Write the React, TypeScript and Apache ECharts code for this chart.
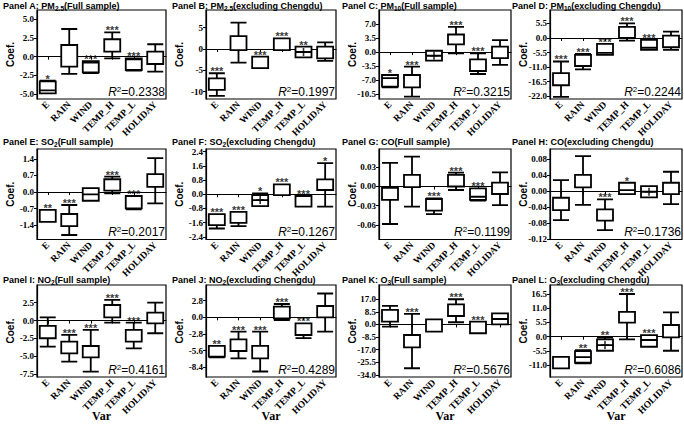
import React, { useEffect, useRef } from 'react';
import * as echarts from 'echarts';

const categories = ['E', 'RAIN', 'WIND', 'TEMP_H', 'TEMP_L', 'HOLIDAY'];

// [low, Q1, median, Q3, high]
const boxA = [[-4.9, -4.9, -4.5, -3.3, -3.2], [-2.3, -1.34, 1.56, 1.56, 3.7], [-2.2, -2.1, -0.8, -0.6, -0.6], [-0.22, 0.67, 2.33, 2.33, 3.26], [-1.85, -1.78, -0.35, -0.22, -0.22], [-2.0, -0.98, 0.67, 0.67, 1.66]];
const boxB = [[-11.0, -9.6, -9.6, -6.9, -5.7], [-3.2, -0.24, 3.05, 3.05, 6.2], [-4.5, -4.5, -1.8, -1.8, -1.8], [-0.24, -0.24, 2.5, 2.5, 2.5], [-1.95, -1.95, -0.7, 0.55, 0.55], [-2.8, -2.2, 0.55, 0.55, 1.57]];
const boxC = [[-8.8, -8.6, -6.5, -5.7, -5.7], [-11.1, -8.8, -8.8, -5.7, -3.6], [-2.1, -2.1, -0.9, 0.35, 0.35], [-0.3, 1.94, 4.4, 4.4, 6.3], [-5.45, -4.7, -4.7, -1.8, -0.3], [-3.2, -1.5, 1.35, 1.35, 3.0]];
const boxD = [[-22.3, -17.9, -17.9, -13.3, -8.9], [-11.9, -10.6, -10.6, -6.4, -6.0], [-6.4, -6.4, -5.6, -2.25, -2.25], [-1.0, 0.0, 4.2, 4.2, 5.5], [-4.5, -4.5, -3.7, -0.75, -0.75], [-4.5, -3.5, 0.86, 0.86, 2.4]];
const boxE = [[-1.26, -1.26, -1.26, -0.76, -0.76], [-1.82, -1.44, -1.44, -0.93, -0.55], [-0.37, -0.37, -0.1, 0.16, 0.16], [-0.06, 0.06, 0.54, 0.54, 0.65], [-0.73, -0.69, -0.69, -0.17, -0.17], [-0.48, 0.22, 0.76, 0.76, 1.43]];
const boxF = [[-1.93, -1.74, -1.74, -1.12, -1.12], [-1.8, -1.61, -1.61, -0.99, -0.99], [-0.67, -0.67, -0.33, -0.05, 0.05], [-0.05, -0.05, 0.56, 0.56, 0.56], [-0.7, -0.7, -0.7, -0.1, -0.1], [-0.7, 0.24, 0.84, 0.84, 1.75]];
const boxG = [[-0.0585, -0.021, -0.002, -0.002, 0.037], [-0.0315, -0.001, 0.018, 0.018, 0.0465], [-0.043, -0.0378, -0.0378, -0.0195, -0.0184], [-0.0055, 0.0, 0.018, 0.018, 0.0215], [-0.022, -0.021, -0.016, -0.003, -0.003], [-0.029, -0.0117, 0.006, 0.006, 0.022]];
const boxH = [[-0.072, -0.047, -0.047, -0.016, 0.028], [-0.034, 0.01, 0.041, 0.041, 0.088], [-0.097, -0.0735, -0.0735, -0.045, -0.02], [-0.007, -0.007, 0.003, 0.0215, 0.0215], [-0.015, -0.015, -0.001, 0.013, 0.013], [-0.032, -0.007, 0.0215, 0.0215, 0.049]];
const boxI = [[-3.65, -2.47, -0.75, -0.75, 0.46], [-5.74, -4.57, -2.95, -2.95, -2.0], [-7.14, -5.13, -3.55, -3.55, -1.3], [-0.29, 0.46, 2.18, 2.18, 2.88], [-3.87, -2.95, -1.31, -1.31, -0.29], [-1.77, -0.38, 1.1, 1.1, 2.5]];
const boxJ = [[-6.7, -6.6, -6.6, -4.8, -4.8], [-6.9, -5.65, -3.7, -3.7, -2.4], [-9.1, -6.9, -4.8, -4.8, -2.4], [-0.45, -0.16, 1.8, 1.8, 2.24], [-3.5, -2.97, -1.0, -1.0, -1.0], [-2.4, 0.0, 1.9, 1.9, 4.0]];
const boxK = [[-1.5, 1.9, 9.8, 9.8, 12.5], [-29.5, -15.4, -7.1, -7.1, 7.1], [-4.85, -4.85, 3.5, 3.5, 3.5], [1.5, 5.7, 13.6, 13.6, 17.0], [-5.9, -5.9, 1.9, 1.9, 1.9], [0.13, 0.13, 3.7, 7.5, 7.5]];
const boxL = [[-12.3, -12.3, -12.3, -7.8, -7.8], [-10.3, -10.1, -7.9, -5.6, -5.2], [-5.45, -5.45, -3.25, -1.05, -0.3], [-1.05, 5.4, 9.6, 9.6, 16.5], [-3.9, -3.9, -1.3, 0.6, 0.6], [-5.45, -0.27, 4.5, 4.5, 9.4]];

const starsA = ['*', '', '***', '***', '***', ''];
const starsB = ['***', '', '***', '***', '**', ''];
const starsC = ['*', '***', '', '***', '***', ''];
const starsD = ['***', '***', '***', '***', '***', ''];
const starsE = ['**', '***', '', '***', '***', ''];
const starsF = ['***', '***', '*', '***', '***', '*'];
const starsG = ['', '', '***', '***', '***', ''];
const starsH = ['', '', '***', '*', '', ''];
const starsI = ['', '***', '***', '***', '***', ''];
const starsJ = ['**', '***', '***', '***', '***', ''];
const starsK = ['', '***', '', '***', '***', ''];
const starsL = ['', '**', '**', '***', '***', ''];

// mean markers ("+"), null where none is drawn
const meansB = [null, null, null, null, -0.7, null];
const meansC = [null, null, -0.9, null, null, null];
const meansF = [null, null, -0.33, null, null, null];
const meansH = [null, null, null, null, -0.001, null];
const meansL = [null, null, -3.25, null, null, null];

const ticksA = [-5, -2.5, 0, 2.5, 5];
const ticksB = [-10, -5, 0, 5];
const ticksC = [-10.5, -7, -3.5, 0, 3.5, 7];
const ticksD = [-22, -16.5, -11, -5.5, 0, 5.5];
const ticksE = [-1.4, -0.7, 0, 0.7, 1.4];
const ticksF = [-2.4, -1.6, -0.8, 0, 0.8, 1.6, 2.4];
const ticksG = [-0.06, -0.03, 0, 0.03];
const ticksH = [-0.12, -0.08, -0.04, 0, 0.04, 0.08];
const ticksI = [-7.5, -5, -2.5, 0, 2.5];
const ticksJ = [-8.4, -5.6, -2.8, 0, 2.8];
const ticksK = [-34, -25.5, -17, -8.5, 0, 8.5, 17];
const ticksL = [-11, -5.5, 0, 5.5, 11, 16.5];

const tickDecimals = [1, 0, 1, 1, 1, 1, 2, 2, 1, 1, 1, 1];
const axisRanges = [[-5.66, 6.24], [-11.75, 9.17], [-11.68, 10.5], [-23.1, 10.6], [-2.01, 1.82], [-2.55, 2.55], [-0.0827, 0.0585], [-0.1205, 0.106], [-7.88, 4.97], [-10.02, 5.43], [-35.4, 26.6], [-15.6, 19.97]];

const r2Values = ['0.2338', '0.1997', '0.3215', '0.2244', '0.2017', '0.1267', '0.1199', '0.1736', '0.4161', '0.4289', '0.5676', '0.6086'];
const titleHeads = ['Panel A: PM', 'Panel B: PM', 'Panel C: PM', 'Panel D: PM', 'Panel E: SO', 'Panel F: SO', 'Panel G: CO', 'Panel H: CO', 'Panel I: NO', 'Panel J: NO', 'Panel K: O', 'Panel L: O'];
const titleSubs = ['2.5', '2.5', '10', '10', '2', '2', '', '', '2', '2', '3', '3'];
const titleTails = ['(Full sample)', '(excluding Chengdu)', '(Full sample)', '(excluding Chengdu)', '(Full sample)', '(excluding Chengdu)', '(Full sample)', '(excluding Chengdu)', '(Full sample)', '(excluding Chengdu)', '(Full sample)', '(excluding Chengdu)'];

const boxes = [boxA, boxB, boxC, boxD, boxE, boxF, boxG, boxH, boxI, boxJ, boxK, boxL];
const stars = [starsA, starsB, starsC, starsD, starsE, starsF, starsG, starsH, starsI, starsJ, starsK, starsL];
const ticks = [ticksA, ticksB, ticksC, ticksD, ticksE, ticksF, ticksG, ticksH, ticksI, ticksJ, ticksK, ticksL];
const means: Record<number, (number | null)[]> = { 1: meansB, 2: meansC, 5: meansF, 7: meansH, 11: meansL };

const colLeft = [37, 206, 379, 550];
const colRight = [166, 336, 511, 682];
const rowTop = [10, 149, 285];
const rowBottom = [99, 239.5, 377];
const titleX = [3, 172, 342, 512];
const titleY = [0, 136, 274];

const SERIF = "'Liberation Serif', 'Times New Roman', serif";
const SANS = "'Liberation Sans', Arial, sans-serif";

function buildOption() {
  const grid: any[] = [];
  const xAxis: any[] = [];
  const yAxis: any[] = [];
  const series: any[] = [];
  const title: any[] = [];
  const graphic: any[] = [];

  for (let p = 0; p < 12; p++) {
    const r = Math.floor(p / 4);
    const c = p % 4;
    const left = colLeft[c];
    const top = rowTop[r];
    const width = colRight[c] - colLeft[c];
    const height = rowBottom[r] - rowTop[r];
    grid.push({ left, top, width, height, show: true, borderColor: '#000', borderWidth: 1.2, backgroundColor: 'transparent', containLabel: false });

    xAxis.push({
      type: 'category',
      gridIndex: p,
      data: categories,
      boundaryGap: true,
      axisLine: { show: true, lineStyle: { color: '#000', width: 1.2 } },
      axisTick: { show: true, alignWithLabel: true, length: 3, lineStyle: { color: '#000' } },
      axisLabel: { rotate: 45, interval: 0, margin: 4, color: '#000', fontFamily: SERIF, fontWeight: 'bold', fontSize: 9.5, hideOverlap: false },
      splitLine: { show: false },
      name: r === 2 ? 'Var' : '',
      nameLocation: 'middle',
      nameGap: 33,
      nameMoveOverlap: false,
      nameTextStyle: { color: '#000', fontFamily: SERIF, fontWeight: 'bold', fontSize: 12 },
    });

    const dec = tickDecimals[p];
    yAxis.push({
      type: 'value',
      gridIndex: p,
      min: axisRanges[p][0],
      max: axisRanges[p][1],
      axisLine: { show: true, lineStyle: { color: '#000', width: 1.2 } },
      axisTick: { show: true, length: 3, customValues: ticks[p], lineStyle: { color: '#000' } },
      axisLabel: {
        customValues: ticks[p],
        hideOverlap: false,
        showMinLabel: true,
        showMaxLabel: true,
        formatter: (v: number) => (Math.abs(v) < 1e-9 ? 0 : v).toFixed(dec),
        color: '#000', fontFamily: SERIF, fontWeight: 'bold', fontSize: 9, margin: 3,
      },
      splitLine: { show: false },
      name: 'Coef.',
      nameLocation: 'middle',
      nameGap: 22,
      nameMoveOverlap: false,
      nameTextStyle: { color: '#000', fontFamily: SANS, fontWeight: 'bold', fontSize: 10 },
    });

    series.push({
      type: 'boxplot',
      xAxisIndex: p,
      yAxisIndex: p,
      data: boxes[p],
      boxWidth: [16, 16],
      silent: true,
      itemStyle: { color: '#fff', borderColor: '#000', borderWidth: 1.8 },
    });

    series.push({
      type: 'scatter',
      xAxisIndex: p,
      yAxisIndex: p,
      silent: true,
      symbolSize: 1,
      itemStyle: { color: 'rgba(0,0,0,0)' },
      data: boxes[p].map((b, j) => [j, b[4], stars[p][j]]),
      label: {
        show: true,
        position: 'top',
        distance: -4,
        formatter: (prm: any) => prm.value[2],
        color: '#000', fontFamily: SANS, fontWeight: 'bold', fontSize: 11,
      },
    });

    if (means[p]) {
      series.push({
        type: 'scatter',
        xAxisIndex: p,
        yAxisIndex: p,
        silent: true,
        symbol: 'path://M4,0H6V4H10V6H6V10H4V6H0V4H4Z',
        symbolSize: 8,
        itemStyle: { color: '#000' },
        data: means[p].map((m, j) => (m === null ? null : [j, m])).filter((d) => d !== null),
      });
    }

    const sub = titleSubs[p];
    title.push({
      left: titleX[c],
      top: titleY[r],
      padding: 0,
      text: sub ? `{m|${titleHeads[p]}}{s|${sub}}{m|${titleTails[p]}}` : `{m|${titleHeads[p]}${titleTails[p]}}`,
      textStyle: {
        color: '#000', fontFamily: SANS, fontWeight: 'bold', fontSize: 9,
        rich: {
          m: { color: '#000', fontFamily: SANS, fontWeight: 'bold', fontSize: 9, lineHeight: 12 },
          s: { color: '#000', fontFamily: SANS, fontWeight: 'bold', fontSize: 6.5, lineHeight: 6, verticalAlign: 'bottom' },
        },
      },
    });

    graphic.push({
      type: 'text',
      x: colRight[c] - 1,
      y: rowBottom[r] - 1,
      silent: true,
      style: {
        text: `{i|R}{s|2}{n|=${r2Values[p]}}`,
        align: 'right',
        verticalAlign: 'bottom',
        rich: {
          i: { fill: '#000', fontFamily: SANS, fontStyle: 'italic', fontSize: 12, lineHeight: 13 },
          s: { fill: '#000', fontFamily: SANS, fontSize: 8, lineHeight: 8, verticalAlign: 'top' },
          n: { fill: '#000', fontFamily: SANS, fontSize: 12, lineHeight: 13 },
        },
      },
    });
  }

  return { animation: false, backgroundColor: '#fff', grid, xAxis, yAxis, series, title, graphic };
}

export default function App() {
  const ref = useRef<HTMLDivElement>(null);
  useEffect(() => {
    if (!ref.current) return;
    const chart = echarts.init(ref.current, null, { renderer: 'svg' });
    chart.setOption(buildOption() as any);
    return () => chart.dispose();
  }, []);
  return <div ref={ref} style={{ position: 'fixed', left: 0, top: 0, width: 684, height: 427, background: '#fff' }} />;
}
